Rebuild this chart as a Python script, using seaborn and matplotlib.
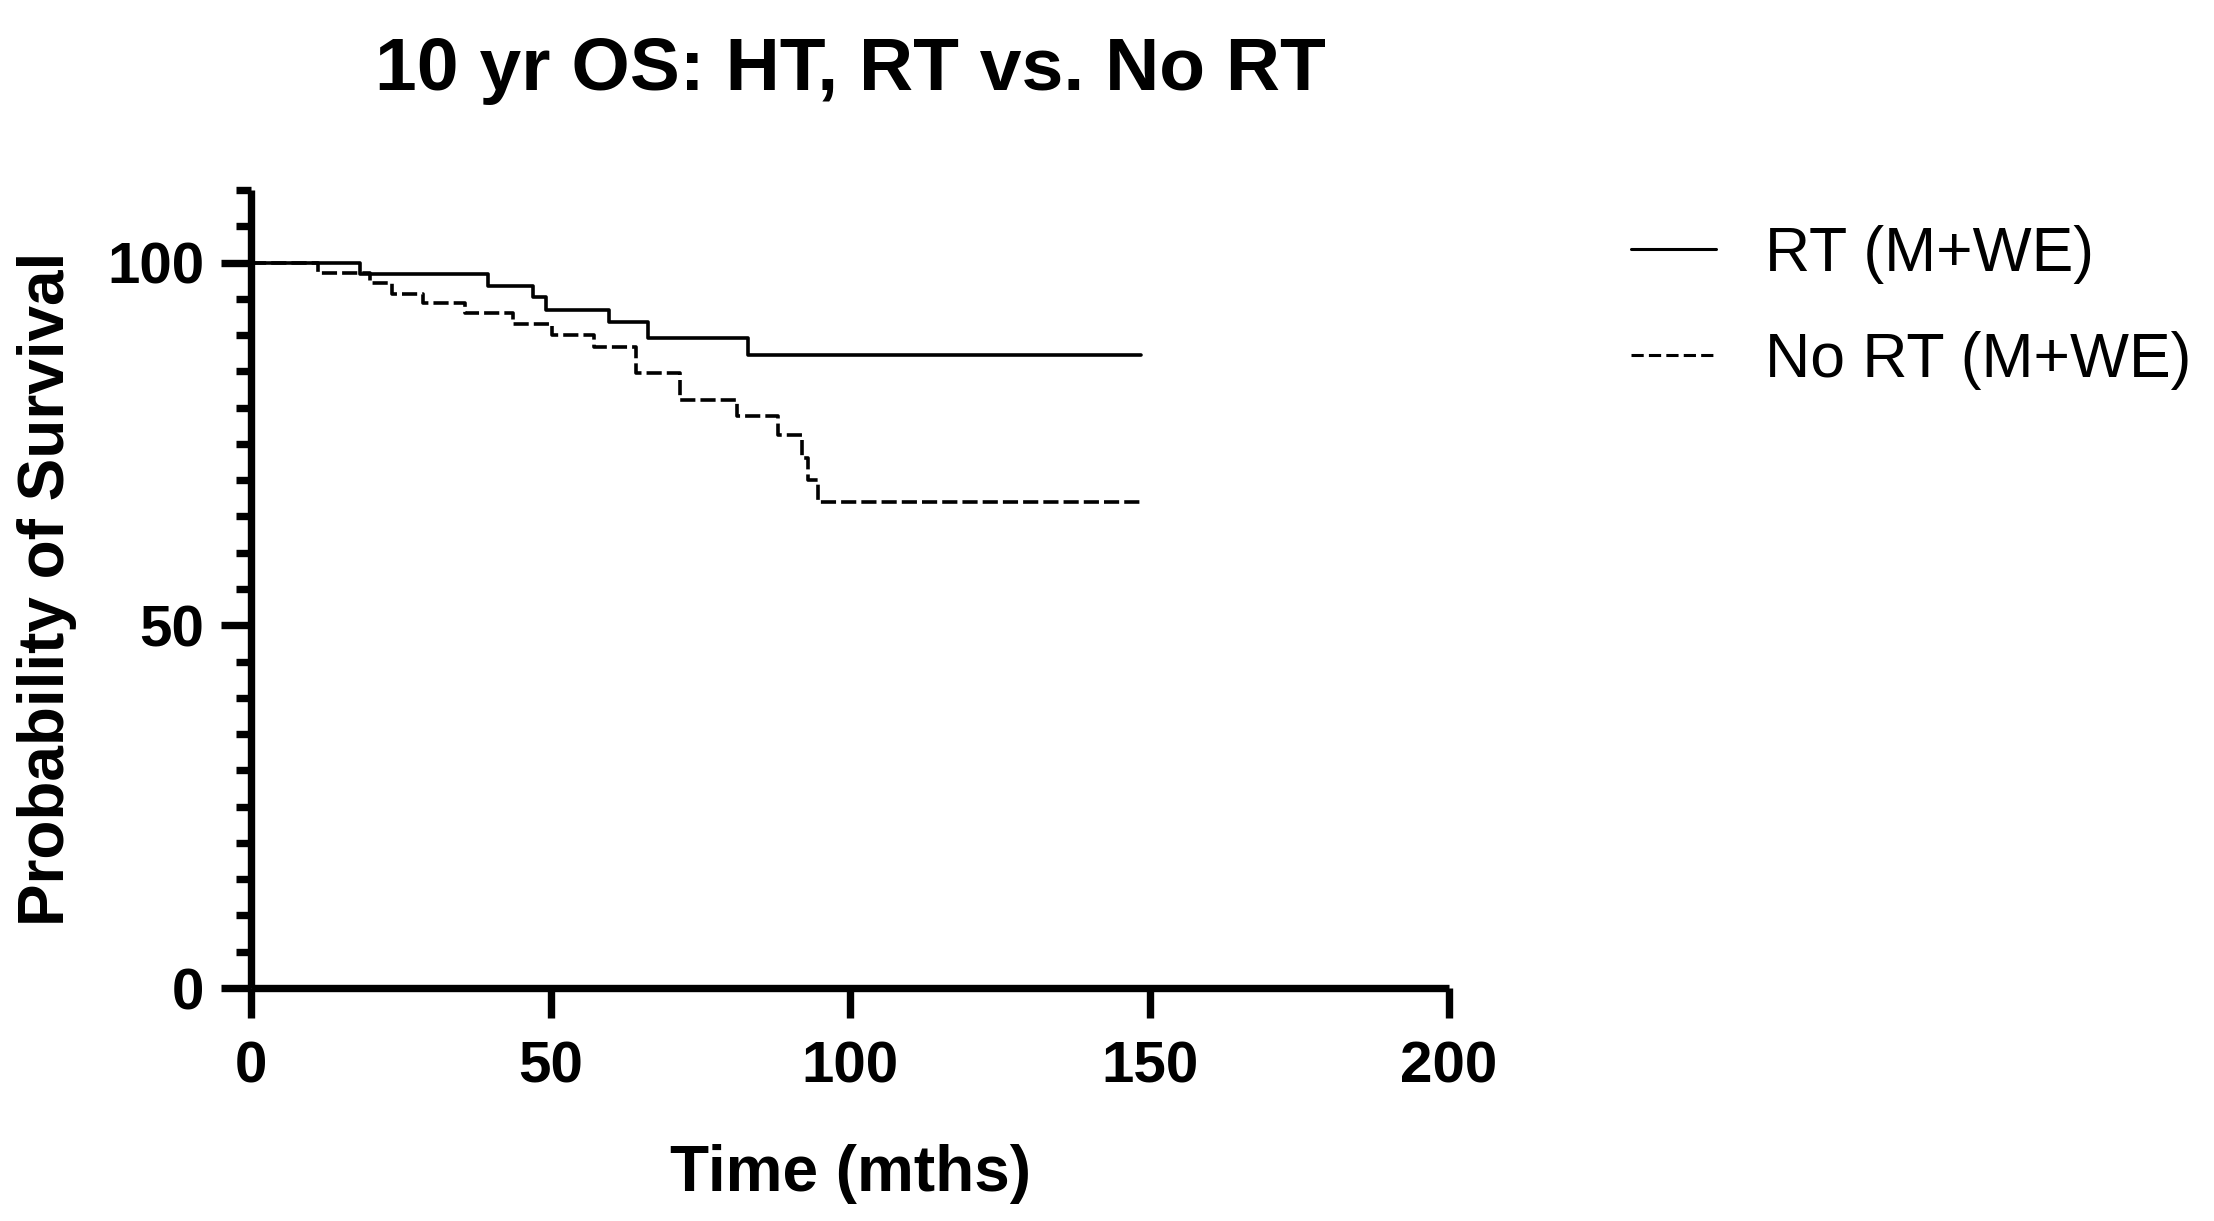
import pandas as pd
import seaborn as sns
import matplotlib.pyplot as plt
from matplotlib.ticker import MultipleLocator

# Kaplan-Meier step points
rt_time = [0, 18.2, 39.5, 47.0, 49.2, 59.8, 66.3, 83.0, 148.5]
rt_surv = [100, 98.4, 96.7, 95.2, 93.5, 91.8, 89.6, 87.3, 87.3]

nort_time = [0, 11.1, 19.9, 23.5, 28.7, 35.7, 43.8, 50.2, 57.3, 64.2, 71.6,
             81.2, 87.9, 91.9, 93.0, 94.6, 148.7]
nort_surv = [100, 98.5, 97.2, 95.7, 94.4, 93.0, 91.5, 90.0, 88.4, 84.8, 81.1,
             78.8, 76.2, 73.0, 70.0, 67.0, 67.0]

labels = ["RT (M+WE)", "No RT (M+WE)"]
x_ticks = [0, 50, 100, 150, 200]
y_ticks = [0, 50, 100]

df = pd.concat([
    pd.DataFrame({"time": rt_time, "surv": rt_surv, "group": labels[0]}),
    pd.DataFrame({"time": nort_time, "surv": nort_surv, "group": labels[1]}),
])

sns.set_style("ticks")
plt.rcParams['font.family'] = ['Liberation Sans', 'DejaVu Sans']
for k in ['text.color', 'axes.labelcolor', 'xtick.color', 'ytick.color', 'axes.edgecolor']:
    plt.rcParams[k] = 'black'

fig = plt.figure(figsize=(22.14, 12.21), dpi=100)
ax = fig.add_axes([0.1134, 0.1908, 0.5411, 0.6536])

sns.lineplot(data=df, x="time", y="surv", style="group", estimator=None,
             drawstyle="steps-post", color="black", linewidth=2.6,
             dashes={labels[0]: "", labels[1]: (4.2, 1.4)}, legend=False, ax=ax)

ax.set_xlim(0, 200)
ax.set_ylim(0, 110)
ax.set_xticks(x_ticks)
ax.set_yticks(y_ticks)
ax.yaxis.set_minor_locator(MultipleLocator(5))
ax.tick_params(axis='both', which='major', direction='out', width=5.3,
               length=21.5, labelsize=42, pad=12)
ax.tick_params(axis='x', which='major', pad=16)
ax.tick_params(axis='y', which='minor', direction='out', width=5.3, length=11)
for lab in ax.get_xticklabels() + ax.get_yticklabels():
    lab.set_fontweight('bold')

sns.despine(ax=ax)
for s in ['left', 'bottom']:
    ax.spines[s].set_linewidth(5.3)
    ax.spines[s].set_capstyle('butt')

ax.set_xlabel("Time (mths)", fontsize=46, fontweight='bold', labelpad=36)
ax.set_ylabel("Probability of Survival", fontsize=46, fontweight='bold', labelpad=22)
ax.set_title("10 yr OS: HT, RT vs. No RT", fontsize=54, fontweight='bold', pad=72)

# legend drawn with plain handles to match the thin keys
h1, = ax.plot([], [], color='black', linewidth=2.2)
h2, = ax.plot([], [], color='black', linewidth=2.2, linestyle=(0, (4, 1.7)))
ax.legend([h1, h2], labels, loc='upper left', bbox_to_anchor=(0.7114, 0.8616),
          bbox_transform=fig.transFigure, frameon=False, fontsize=45,
          handlelength=1.36, handletextpad=0.78, labelspacing=0.75)

fig.savefig("out.png", dpi=100)
